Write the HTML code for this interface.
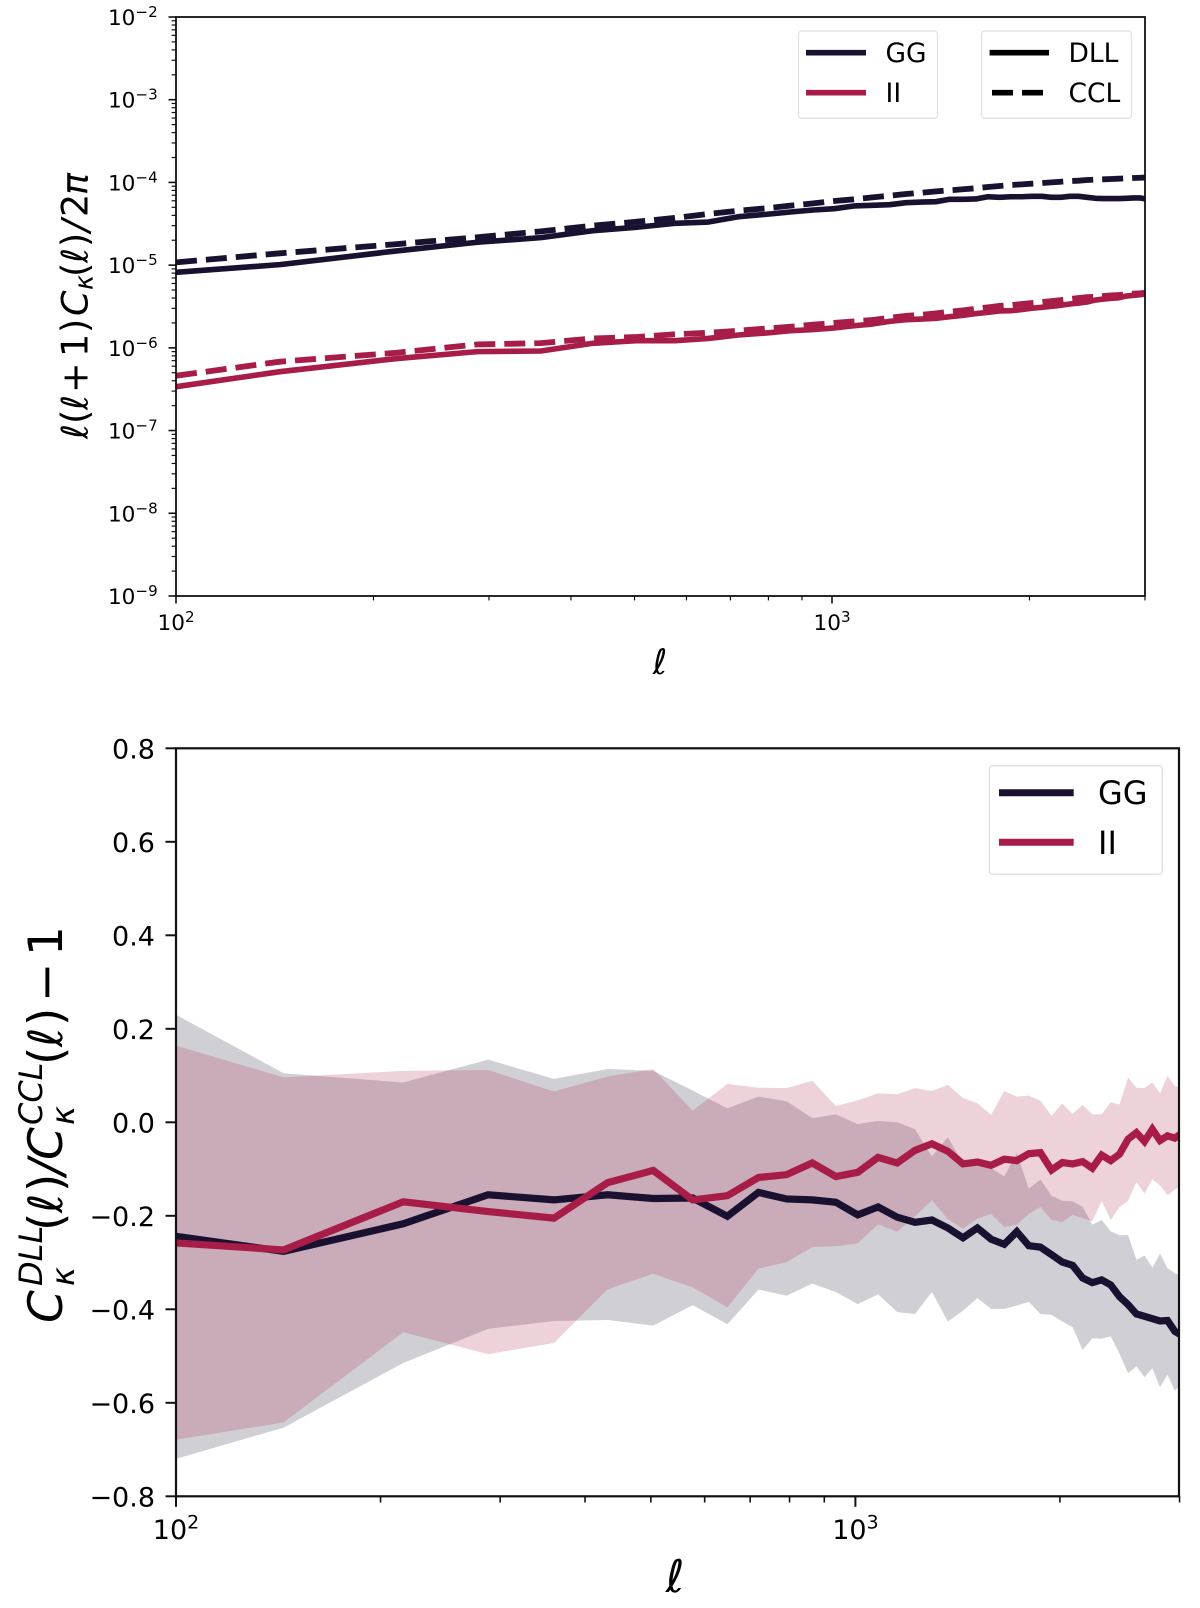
<!DOCTYPE html>
<html>
<head>
<meta charset="utf-8">
<title>Convergence power spectra</title>
<style>
html,body{margin:0;padding:0;background:#fff;width:1200px;height:1608px;overflow:hidden}
svg{display:block}
text{font-family:"DejaVu Sans","Liberation Sans",sans-serif;fill:#000}
.m{font-style:oblique}
</style>
</head>
<body>
<svg id="fig" xmlns="http://www.w3.org/2000/svg" width="1200" height="1608" viewBox="0 0 1200 1608">
  <defs>
    <clipPath id="clip-top"><rect x="176" y="17" width="969" height="579"/></clipPath>
    <clipPath id="clip-bottom"><rect x="176" y="748.3" width="1003" height="748"/></clipPath>
  </defs>
  <rect x="0" y="0" width="1200" height="1608" fill="#fff"/>

  <g id="top-marks" clip-path="url(#clip-top)"></g>
  <g id="top-ticks"></g>
  <rect x="176" y="17" width="969" height="579" fill="none" stroke="#111" stroke-width="1.8"/>

  <text transform="translate(87.5 439) rotate(-90)" font-size="36.5">
    <tspan class="m" x="0" y="0">ℓ</tspan><tspan x="15" y="0">(</tspan><tspan class="m" x="29" y="0">ℓ</tspan><tspan x="46" y="0">+</tspan><tspan x="82" y="0">1</tspan><tspan x="106" y="0">)</tspan><tspan class="m" x="123" y="0">C</tspan><tspan class="m" x="149" y="5" font-size="25.5">κ</tspan><tspan x="162" y="0">(</tspan><tspan class="m" x="176" y="0">ℓ</tspan><tspan x="192" y="0">)</tspan><tspan class="m" x="207" y="0">/</tspan><tspan x="222" y="0">2</tspan><tspan class="m" x="244" y="0">π</tspan>
  </text>
  <text class="m" x="660" y="674" font-size="35" text-anchor="middle">ℓ</text>

  <g>
    <rect x="798.5" y="31" width="139" height="87.3" rx="3" fill="#fff" fill-opacity=".8" stroke="#e2e2e2" stroke-width="1.3"/>
    <line x1="806" x2="866" y1="52.7" y2="52.7" stroke="#1a1030" stroke-width="5.6"/>
    <text x="885.5" y="62" font-size="26.5">GG</text>
    <line x1="806" x2="866" y1="92.7" y2="92.7" stroke="#a81c48" stroke-width="5.6"/>
    <text x="885.5" y="102" font-size="26.5">II</text>
  </g>
  <g>
    <rect x="981.5" y="31" width="150" height="87.3" rx="3" fill="#fff" fill-opacity=".8" stroke="#e2e2e2" stroke-width="1.3"/>
    <line x1="989.6" x2="1049" y1="52.7" y2="52.7" stroke="#000" stroke-width="5.6"/>
    <text x="1068.5" y="62" font-size="26.5">DLL</text>
    <line x1="992" x2="1049" y1="92.7" y2="92.7" stroke="#000" stroke-width="5.6" stroke-dasharray="21 9"/>
    <text x="1068.5" y="102" font-size="26.5">CCL</text>
  </g>

  <g id="bottom-marks" clip-path="url(#clip-bottom)"></g>
  <g id="bottom-ticks"></g>
  <rect x="176" y="748.3" width="1003" height="748" fill="none" stroke="#111" stroke-width="2.2"/>

  <text transform="translate(62 1323) rotate(-90)" font-size="47">
    <tspan class="m" x="0" y="0">C</tspan><tspan class="m" x="37" y="-20" font-size="32">DLL</tspan><tspan class="m" x="37" y="12" font-size="32">κ</tspan><tspan x="92" y="0">(</tspan><tspan class="m" x="110" y="0">ℓ</tspan><tspan x="131" y="0">)</tspan><tspan class="m" x="148" y="0">/</tspan><tspan class="m" x="163" y="0">C</tspan><tspan class="m" x="198" y="-20" font-size="32">CCL</tspan><tspan class="m" x="198" y="12" font-size="32">κ</tspan><tspan x="258" y="0">(</tspan><tspan class="m" x="276" y="0">ℓ</tspan><tspan x="297" y="0">)</tspan><tspan x="321" y="0">−</tspan><tspan x="367" y="0">1</tspan>
  </text>
  <text class="m" x="675" y="1592" font-size="45" text-anchor="middle">ℓ</text>

  <g>
    <rect x="989.3" y="765.7" width="173" height="108.6" rx="3.5" fill="#fff" fill-opacity=".8" stroke="#e2e2e2" stroke-width="1.5"/>
    <line x1="999" x2="1073.7" y1="792.7" y2="792.7" stroke="#1a1030" stroke-width="7"/>
    <text x="1098" y="804" font-size="32">GG</text>
    <line x1="999" x2="1073.7" y1="842.3" y2="842.3" stroke="#a81c48" stroke-width="7"/>
    <text x="1098" y="854" font-size="32">II</text>
  </g>
</svg>
<script>
// Multipole bins shared by both panels
const ell = [100,144,216,288,360,432,504,576,648,720,792,864,936,1008,1080,1152,1224,1296,1368,1440,1512,1584,1656,1728,1800,1872,1944,2016,2088,2160,2232,2304,2376,2448,2520,2592,2664,2736,2808,2880,2952,3024];

// Top panel: l(l+1)C(l)/2pi
const ggDll = [8.19e-6,1.014e-5,1.48e-5,1.89e-5,2.15e-5,2.61e-5,2.87e-5,3.2e-5,3.32e-5,3.85e-5,4.11e-5,4.39e-5,4.64e-5,4.81e-5,5.19e-5,5.28e-5,5.38e-5,5.69e-5,5.79e-5,5.85e-5,6.25e-5,6.25e-5,6.31e-5,6.71e-5,6.61e-5,6.71e-5,6.71e-5,6.79e-5,6.79e-5,6.61e-5,6.61e-5,6.79e-5,6.79e-5,6.61e-5,6.43e-5,6.38e-5,6.38e-5,6.38e-5,6.43e-5,6.49e-5,6.49e-5,6.25e-5];
const ggCcl = [1.08e-5,1.39e-5,1.79e-5,2.17e-5,2.56e-5,3.0e-5,3.35e-5,3.72e-5,4.15e-5,4.55e-5,4.86e-5,5.24e-5,5.58e-5,5.96e-5,6.25e-5,6.6e-5,6.9e-5,7.24e-5,7.5e-5,7.8e-5,8.03e-5,8.26e-5,8.5e-5,8.8e-5,9.05e-5,9.3e-5,9.48e-5,9.65e-5,9.84e-5,1.002e-4,1.02e-4,1.04e-4,1.05e-4,1.07e-4,1.08e-4,1.09e-4,1.10e-4,1.11e-4,1.12e-4,1.13e-4,1.14e-4,1.15e-4];
const iiDll = [3.39e-7,5.15e-7,7.4e-7,9.0e-7,9.16e-7,1.135e-6,1.22e-6,1.22e-6,1.30e-6,1.43e-6,1.51e-6,1.61e-6,1.66e-6,1.74e-6,1.85e-6,1.94e-6,2.09e-6,2.19e-6,2.23e-6,2.27e-6,2.38e-6,2.47e-6,2.59e-6,2.69e-6,2.79e-6,2.81e-6,2.90e-6,3.01e-6,3.09e-6,3.18e-6,3.27e-6,3.39e-6,3.48e-6,3.58e-6,3.78e-6,3.89e-6,3.97e-6,4.03e-6,4.23e-6,4.31e-6,4.39e-6,4.52e-6];
const iiCcl = [4.6e-7,6.8e-7,8.7e-7,1.10e-6,1.14e-6,1.30e-6,1.35e-6,1.46e-6,1.52e-6,1.61e-6,1.71e-6,1.80e-6,1.91e-6,2.0e-6,2.09e-6,2.17e-6,2.31e-6,2.43e-6,2.51e-6,2.61e-6,2.73e-6,2.84e-6,2.97e-6,3.09e-6,3.21e-6,3.27e-6,3.39e-6,3.48e-6,3.58e-6,3.67e-6,3.78e-6,3.89e-6,4.0e-6,4.1e-6,4.14e-6,4.23e-6,4.31e-6,4.35e-6,4.43e-6,4.52e-6,4.57e-6,4.65e-6];

// Bottom panel: ratio and error bands
const ggRatio = [-.244,-.276,-.217,-.155,-.166,-.155,-.163,-.162,-.201,-.150,-.164,-.166,-.171,-.198,-.181,-.203,-.214,-.209,-.226,-.247,-.226,-.250,-.261,-.234,-.264,-.267,-.283,-.299,-.306,-.333,-.343,-.337,-.348,-.373,-.390,-.410,-.415,-.420,-.425,-.424,-.447,-.456];
const iiRatio = [-.258,-.273,-.170,-.191,-.205,-.129,-.103,-.166,-.157,-.118,-.112,-.087,-.116,-.107,-.075,-.087,-.060,-.046,-.062,-.089,-.085,-.092,-.079,-.082,-.067,-.065,-.102,-.086,-.089,-.084,-.098,-.070,-.082,-.068,-.036,-.022,-.041,-.015,-.039,-.029,-.034,-.023];
const ggUpper = [.230,.105,.085,.134,.093,.114,.110,.068,.030,.055,.045,.009,.017,-.004,.003,0,-.015,-.073,-.032,-.087,-.080,-.098,-.116,-.066,-.142,-.122,-.157,-.168,-.169,-.181,-.219,-.209,-.233,-.242,-.241,-.294,-.285,-.311,-.281,-.312,-.323,-.330];
const ggLower = [-.720,-.653,-.515,-.442,-.425,-.423,-.435,-.391,-.432,-.358,-.371,-.345,-.363,-.389,-.368,-.406,-.410,-.363,-.426,-.403,-.376,-.399,-.399,-.392,-.384,-.410,-.412,-.426,-.438,-.487,-.462,-.463,-.458,-.495,-.537,-.522,-.545,-.526,-.567,-.540,-.574,-.558];
const iiUpper = [.164,.096,.110,.112,.066,.098,.114,.025,.082,.074,.073,.089,.035,.047,.062,.060,.073,.067,.080,.052,.041,.016,.067,.055,.057,.046,.014,.040,.018,.037,.017,.017,.043,.038,.096,.074,.073,.085,.062,.099,.078,.073];
const iiLower = [-.679,-.642,-.449,-.496,-.472,-.357,-.324,-.353,-.396,-.313,-.299,-.267,-.265,-.259,-.218,-.234,-.201,-.167,-.207,-.228,-.206,-.196,-.224,-.219,-.196,-.181,-.209,-.213,-.198,-.205,-.212,-.168,-.209,-.181,-.168,-.128,-.153,-.122,-.135,-.156,-.144,-.134];

// Tick values and labels
const topYExponents = [-2,-3,-4,-5,-6,-7,-8,-9];
const xExponents = [2,3];
const logMinorX = [200,300,400,500,600,700,800,900,2000,3000];
const logMinorFactors = [2,3,4,5,6,7,8,9];
const ratioTicks = [0.8,0.6,0.4,0.2,0.0,-0.2,-0.4,-0.6,-0.8];
const ratioTickLabels = ['0.8','0.6','0.4','0.2','0.0','−0.2','−0.4','−0.6','−0.8'];

const GG_COLOR = '#1a1030';
const II_COLOR = '#a81c48';
const SVGNS = 'http://www.w3.org/2000/svg';

function mk(parent, tag, attrs, text) {
  const el = document.createElementNS(SVGNS, tag);
  for (const k in attrs) el.setAttribute(k, attrs[k]);
  if (text !== undefined) el.textContent = text;
  parent.appendChild(el);
  return el;
}

// Axis functions
const topX = v => 176 + 656 * (Math.log10(v) - 2);
const topY = v => 17 + 82.71 * (-2 - Math.log10(v));
const botX = v => 176 + 679.4 * (Math.log10(v) - 2);
const botY = v => 1122.3 - 467.5 * v;

function pathFrom(xs, ys, sx, sy) {
  return xs.map((x, i) => (i ? 'L' : 'M') + sx(x).toFixed(2) + ' ' + sy(ys[i]).toFixed(2)).join('');
}
function bandFrom(xs, hi, lo, sx, sy) {
  const up = xs.map((x, i) => sx(x).toFixed(2) + ',' + sy(hi[i]).toFixed(2));
  const dn = xs.map((x, i) => sx(x).toFixed(2) + ',' + sy(lo[i]).toFixed(2)).reverse();
  return up.concat(dn).join(' ');
}

const topMarks = document.getElementById('top-marks');
const topTicks = document.getElementById('top-ticks');
const botMarks = document.getElementById('bottom-marks');
const botTicks = document.getElementById('bottom-ticks');

// Top panel lines
const l1 = mk(topMarks, 'path', {d: pathFrom(ell, ggDll, topX, topY), fill: 'none', stroke: GG_COLOR, 'stroke-width': 5.6, 'stroke-linejoin': 'round'});


const l2 = mk(topMarks, 'path', {d: pathFrom(ell, ggCcl, topX, topY), fill: 'none', stroke: GG_COLOR, 'stroke-width': 5.8, 'stroke-dasharray': '21 9'});


const l3 = mk(topMarks, 'path', {d: pathFrom(ell, iiDll, topX, topY), fill: 'none', stroke: II_COLOR, 'stroke-width': 5.6, 'stroke-linejoin': 'round'});


const l4 = mk(topMarks, 'path', {d: pathFrom(ell, iiCcl, topX, topY), fill: 'none', stroke: II_COLOR, 'stroke-width': 5.8, 'stroke-dasharray': '21 9'});



// Top panel ticks
topYExponents.forEach(e => {
  const y = topY(Math.pow(10, e));
  const t = mk(topTicks, 'line', {x1: 168.5, x2: 176, y1: y, y2: y, stroke: '#111', 'stroke-width': 1.6});
  
  
  const lab = mk(topTicks, 'text', {x: 157.7, y: y + 8, 'font-size': 21.6, 'text-anchor': 'end'});
  
  
  mk(lab, 'tspan', {}, '10');
  mk(lab, 'tspan', {dy: -8, 'font-size': 15.1}, '−' + Math.abs(e));
  if (e > -9) {
    logMinorFactors.forEach(f => {
      const my = topY(f * Math.pow(10, e - 1));
      const m = mk(topTicks, 'line', {x1: 171.6, x2: 176, y1: my, y2: my, stroke: '#111', 'stroke-width': 1.2});
      
      
    });
  }
});
xExponents.forEach(e => {
  const x = topX(Math.pow(10, e));
  const t = mk(topTicks, 'line', {x1: x, x2: x, y1: 596, y2: 603.5, stroke: '#111', 'stroke-width': 1.6});
  
  
  const lab = mk(topTicks, 'text', {x: x, y: 630, 'font-size': 21.6, 'text-anchor': 'middle'});
  
  
  mk(lab, 'tspan', {}, '10');
  mk(lab, 'tspan', {dy: -8, 'font-size': 15.1}, String(e));
});
logMinorX.forEach(v => {
  const x = topX(v);
  const m = mk(topTicks, 'line', {x1: x, x2: x, y1: 596, y2: 600.4, stroke: '#111', 'stroke-width': 1.2});
  
  
});

// Bottom panel bands and lines
const b1 = mk(botMarks, 'polygon', {points: bandFrom(ell, ggUpper, ggLower, botX, botY), fill: GG_COLOR, 'fill-opacity': .2});


const b2 = mk(botMarks, 'polygon', {points: bandFrom(ell, iiUpper, iiLower, botX, botY), fill: II_COLOR, 'fill-opacity': .2});


const r1 = mk(botMarks, 'path', {d: pathFrom(ell, ggRatio, botX, botY), fill: 'none', stroke: GG_COLOR, 'stroke-width': 7.2, 'stroke-linejoin': 'miter'});


const r2 = mk(botMarks, 'path', {d: pathFrom(ell, iiRatio, botX, botY), fill: 'none', stroke: II_COLOR, 'stroke-width': 7.2, 'stroke-linejoin': 'miter'});



// Bottom panel ticks
ratioTicks.forEach((v, i) => {
  const y = botY(v);
  const t = mk(botTicks, 'line', {x1: 165.5, x2: 176, y1: y, y2: y, stroke: '#111', 'stroke-width': 2});
  
  
  const lab = mk(botTicks, 'text', {x: 155, y: y + 10, 'font-size': 27, 'text-anchor': 'end'}, ratioTickLabels[i]);
  
  
});
xExponents.forEach(e => {
  const x = botX(Math.pow(10, e));
  const t = mk(botTicks, 'line', {x1: x, x2: x, y1: 1496.3, y2: 1506.8, stroke: '#111', 'stroke-width': 2});
  
  
  const lab = mk(botTicks, 'text', {x: x, y: 1539, 'font-size': 27, 'text-anchor': 'middle'});
  
  
  mk(lab, 'tspan', {}, '10');
  mk(lab, 'tspan', {dy: -10.5, 'font-size': 18.9}, String(e));
});
logMinorX.forEach(v => {
  const x = botX(v);
  const m = mk(botTicks, 'line', {x1: x, x2: x, y1: 1496.3, y2: 1502.5, stroke: '#111', 'stroke-width': 1.6});
  
  
});
</script>
</body>
</html>
